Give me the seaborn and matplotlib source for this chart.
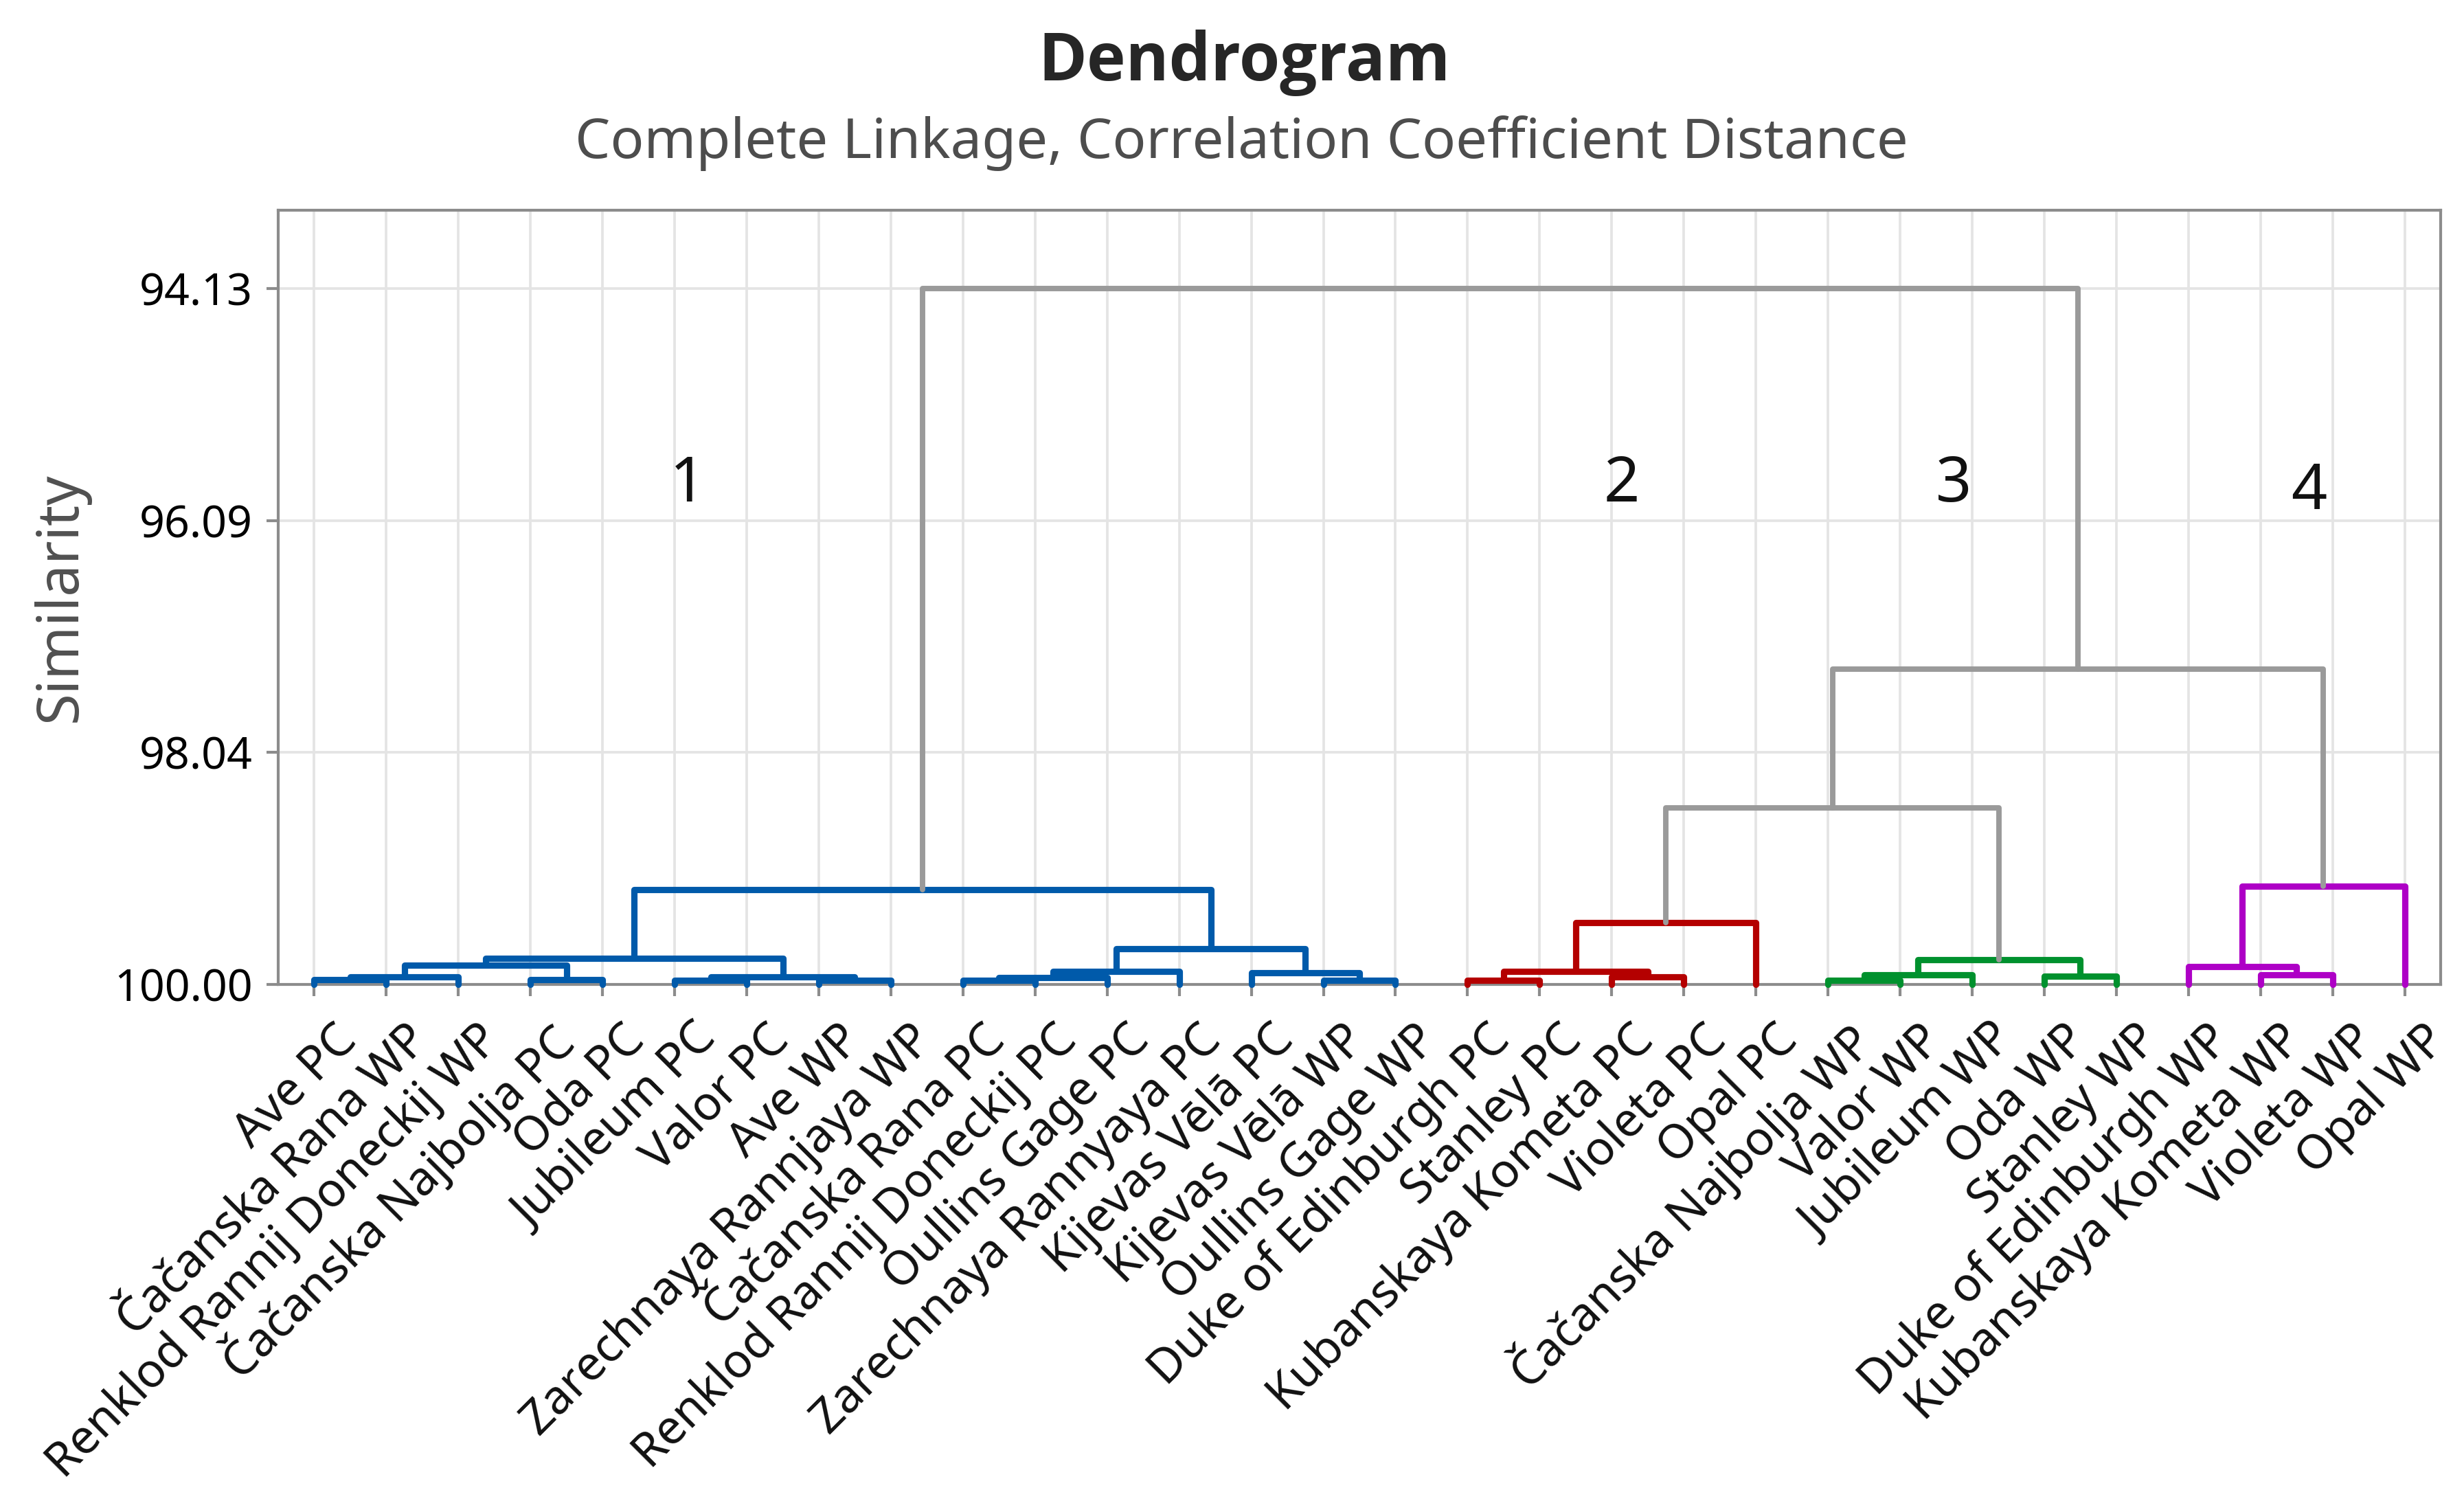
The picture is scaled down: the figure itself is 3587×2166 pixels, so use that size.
# Dendrograma de variedades de ciruelo (PC / WP), estilo Minitab.
import matplotlib

# Backend sin display: solo escribimos el PNG
matplotlib.use("Agg")

import matplotlib.pyplot as plt  # noqa: E402
import matplotlib.transforms as mtransforms  # noqa: E402
import pandas as pd  # noqa: E402
import seaborn as sns  # noqa: E402

# Hojas en el orden del dendrograma
hojas = [
    "Ave PC", "Čačanska Rana WP", "Renklod Rannij Doneckij WP",
    "Čačanska Najbolja PC", "Oda PC", "Jubileum PC", "Valor PC", "Ave WP",
    "Zarechnaya Rannjaya WP", "Čačanska Rana PC",
    "Renklod Rannij Doneckij PC", "Oullins Gage PC",
    "Zarechnaya Rannyaya PC", "Kijevas Vēlā PC", "Kijevas Vēlā WP",
    "Oullins Gage WP", "Duke of Edinburgh PC", "Stanley PC",
    "Kubanskaya Kometa PC", "Violeta PC", "Opal PC",
    "Čačanska Najbolja WP", "Valor WP", "Jubileum WP", "Oda WP",
    "Stanley WP", "Duke of Edinburgh WP", "Kubanskaya Kometa WP",
    "Violeta WP", "Opal WP",
]
# Cluster final de cada hoja (1-4)
grupo_hoja = [1] * 16 + [2] * 5 + [3] * 5 + [4] * 4

# Tabla de uniones tipo linkage: ids < 30 son hojas, 30+ son uniones previas
union_a = [0, 30, 3, 31, 5, 7, 34, 33, 9, 38, 39, 14, 13, 40, 37,
           16, 18, 45, 47, 21, 49, 24, 50, 27, 26, 54, 48, 56, 44]
union_b = [1, 2, 4, 32, 6, 8, 35, 36, 10, 11, 12, 15, 41, 42, 43,
           17, 19, 46, 20, 22, 23, 25, 51, 28, 53, 29, 52, 55, 57]
similitud = [99.96, 99.935, 99.96, 99.84, 99.965, 99.965, 99.935, 99.78,
             99.965, 99.94, 99.89, 99.965, 99.90, 99.70, 99.20,
             99.965, 99.935, 99.89, 99.48, 99.965, 99.92, 99.93, 99.79,
             99.92, 99.85, 99.17, 98.51, 97.34, 94.13]

ticks_y = [94.13, 96.09, 98.04, 100.00]

# Números de cluster escritos sobre el gráfico
etiquetas_cluster = ["1", "2", "3", "4"]
etiqueta_x = [5.18, 18.14, 22.74, 27.67]
etiqueta_y = [95.79, 95.79, 95.79, 95.85]

colores = {1: "#005AAA", 2: "#B40000", 3: "#00912E", 4: "#AE00C6"}
gris = "#9a9a9a"
gris_marco = "#8c8c8c"

# Segmentos en forma de U para cada unión
n = len(hojas)
pos = [float(i) for i in range(n)]
alt = [100.0] * n
grp = list(grupo_hoja)
filas = []
for k, (a, b, s) in enumerate(zip(union_a, union_b, similitud)):
    g = grp[a] if grp[a] == grp[b] else 0
    for x, y in [(pos[a], alt[a]), (pos[a], s), (pos[b], s), (pos[b], alt[b])]:
        filas.append({"x": x, "y": y, "seg": k, "grupo": g})
    pos.append((pos[a] + pos[b]) / 2)
    alt.append(s)
    grp.append(g)
df = pd.DataFrame(filas)

sns.set_theme(style="whitegrid")
plt.rcParams["font.family"] = ["Noto Sans", "DejaVu Sans"]

W, H = 3587, 2166
fig = plt.figure(figsize=(W / 300, H / 300), dpi=300)
ax = fig.add_axes([405 / W, 1 - 1433 / H, (3553 - 405) / W, (1433 - 306) / H])

sns.lineplot(
    data=df[df.grupo > 0], x="x", y="y", units="seg", estimator=None,
    sort=False, hue="grupo", palette=colores, legend=False,
    linewidth=2.2, ax=ax,
)
sns.lineplot(
    data=df[df.grupo == 0], x="x", y="y", units="seg", estimator=None,
    sort=False, color=gris, legend=False, linewidth=1.9, ax=ax,
)
for ln in ax.lines:
    # Las ramas a similitud 100 van encima del eje
    ln.set_clip_on(False)
    ln.set_zorder(3)

ax.set_xlim(-0.5, n - 0.5)
ax.set_ylim(100.0, 93.47)
ax.set_yticks(ticks_y)
ax.set_yticklabels([f"{v:.2f}" for v in ticks_y])
ax.set_xticks(range(n))
ax.set_xticklabels(hojas, rotation=45, ha="right", va="center",
                   rotation_mode="anchor")
ax.set_xlabel("")
ax.set_ylabel("Similarity", fontsize=20, color="#505050")
ax.yaxis.set_label_coords(-0.087, 0.5)

ax.grid(True, color="#e4e4e4", linewidth=0.9)
for sp in ax.spines.values():
    sp.set_color(gris_marco)
    sp.set_linewidth(1.0)
ax.tick_params(axis="both", bottom=True, left=True, direction="out",
               length=4, width=1.0, color=gris_marco)
ax.tick_params(axis="y", labelsize=15.5, labelcolor="#000000", pad=5)
ax.tick_params(axis="x", labelsize=16.5, labelcolor="#111111", pad=13)

# Desplaza las etiquetas rotadas a la derecha de su tick
desplaza = mtransforms.ScaledTranslation(0.17, 0, fig.dpi_scale_trans)
for lab in ax.get_xticklabels():
    lab.set_transform(lab.get_transform() + desplaza)

for t, x, y in zip(etiquetas_cluster, etiqueta_x, etiqueta_y):
    ax.text(x, y, t, ha="center", va="center", fontsize=22, color="#111111")

fig.text(0.505, 1 - 117 / H, "Dendrogram", ha="center", va="baseline",
         fontsize=23, weight="bold", color="#262626",
         family=["Open Sans", "DejaVu Sans"])
fig.text(0.504, 1 - 230 / H, "Complete Linkage, Correlation Coefficient Distance",
         ha="center", va="baseline", fontsize=19.5, color="#4d4d4d")

fig.savefig("out.png", dpi=300)
plt.close(fig)
